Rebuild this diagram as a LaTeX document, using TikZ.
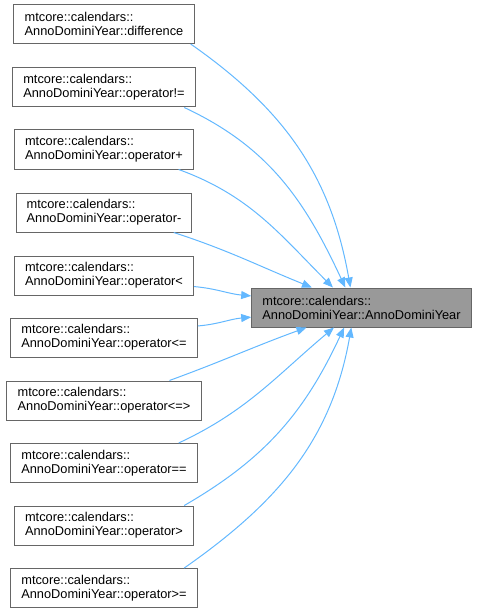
\documentclass[tikz,border=0pt]{standalone}
\usepackage{fontspec}
\setmainfont{Liberation Sans}
\usetikzlibrary{arrows.meta,positioning}
\definecolor{edgeblue}{HTML}{63B8FF}
\definecolor{boxgray}{HTML}{666666}
\definecolor{hlfill}{HTML}{999999}

\begin{document}
\begin{tikzpicture}[
  x=0.75pt, y=0.75pt,
  font=\fontsize{9.6}{10.5}\selectfont,
  fn/.style={draw=boxgray, line width=0.75pt, align=left, inner xsep=8pt,
             minimum height=29.25pt, fill=white},
  hl/.style={fn, fill=hlfill},
  arr/.style={draw=edgeblue, line width=0.75pt,
              -{Triangle[length=7.5pt, width=6pt, fill=edgeblue]}}
]
\useasboundingbox (0,0) rectangle (479,-613);

% ---------- called function ----------
\node[hl] (ctor) at (361.5,-307.5) {mtcore::calendars::\\AnnoDominiYear::AnnoDominiYear};

% ---------- callers ----------
\node[fn] (diff)  at (104,-24)    {mtcore::calendars::\\AnnoDominiYear::difference};
\node[fn] (neq)   at (104,-87.5)  {mtcore::calendars::\\AnnoDominiYear::operator!=};
\node[fn] (plus)  at (104,-149.5) {mtcore::calendars::\\AnnoDominiYear::operator+};
\node[fn] (minus) at (104,-212.5) {mtcore::calendars::\\AnnoDominiYear::operator-};
\node[fn] (lt)    at (104,-275.5) {mtcore::calendars::\\AnnoDominiYear::operator<};
\node[fn] (le)    at (104,-337.5) {mtcore::calendars::\\AnnoDominiYear::operator<=};
\node[fn] (cmp)   at (104,-400.5) {mtcore::calendars::\\AnnoDominiYear::operator<=>};
\node[fn] (eq)    at (104,-463)   {mtcore::calendars::\\AnnoDominiYear::operator==};
\node[fn] (gt)    at (104,-525.5) {mtcore::calendars::\\AnnoDominiYear::operator>};
\node[fn] (ge)    at (104,-588)   {mtcore::calendars::\\AnnoDominiYear::operator>=};

% ---------- calls ----------
\draw[arr] (diff.-13)  to[out=-35, in=100] (ctor.119);
\draw[arr] (neq.-14)   to[out=-25, in=115] (ctor.129);
\draw[arr] (plus.-15)  to[out=-20, in=135] (ctor.145);
\draw[arr] (minus.-16) to[out=-18, in=158] (ctor.158);
\draw[arr] (lt.-7)     to[out=-5, in=175]  (ctor.174);
\draw[arr] (le.7)      to[out=5, in=185]   (ctor.185);
\draw[arr] (cmp.17)    to[out=20, in=200]  (ctor.200);
\draw[arr] (eq.15)     to[out=25, in=220]  (ctor.216);
\draw[arr] (gt.14)     to[out=30, in=245]  (ctor.229);
\draw[arr] (ge.14)     to[out=35, in=260]  (ctor.243);

\end{tikzpicture}
\end{document}
